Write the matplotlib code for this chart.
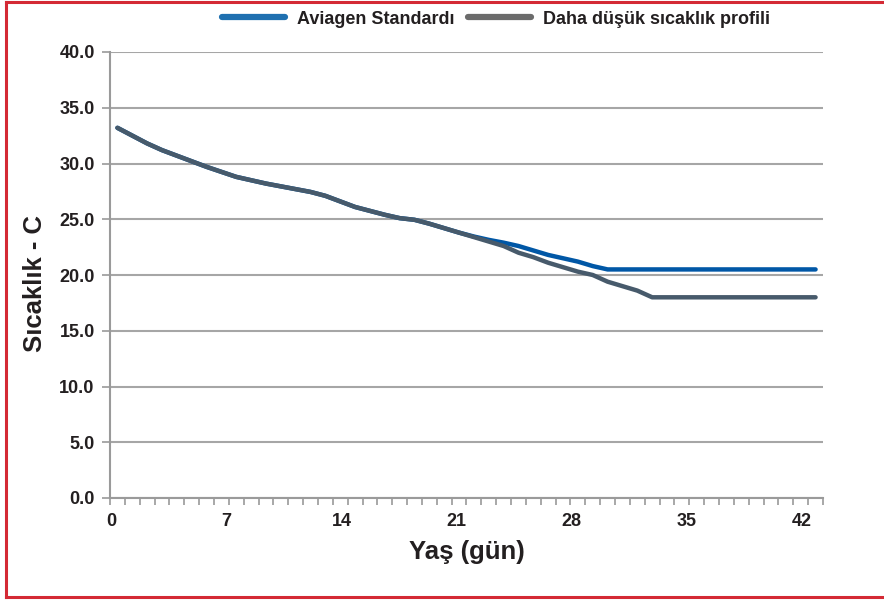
import matplotlib
matplotlib.use("Agg")
import matplotlib.pyplot as plt
from matplotlib.lines import Line2D
from matplotlib.ticker import FixedLocator, FormatStrFormatter

plt.rcParams['font.family'] = ['Liberation Sans', 'DejaVu Sans']

# Temperature profiles (°C), one value per plotted age step
standard_temp = [33.2, 32.5, 31.8, 31.2, 30.7, 30.2, 29.7, 29.25, 28.8, 28.5,
                 28.2, 27.95, 27.7, 27.45, 27.1, 26.6, 26.1, 25.75, 25.4, 25.1,
                 24.95, 24.6, 24.2, 23.8, 23.45, 23.15, 22.9, 22.6, 22.2, 21.8,
                 21.5, 21.2, 20.8, 20.5, 20.5, 20.5, 20.5, 20.5, 20.5, 20.5,
                 20.5, 20.5, 20.5, 20.5, 20.5, 20.5, 20.5, 20.5]
lower_temp = [33.2, 32.5, 31.8, 31.2, 30.7, 30.2, 29.7, 29.25, 28.8, 28.5,
              28.2, 27.95, 27.7, 27.45, 27.1, 26.6, 26.1, 25.75, 25.4, 25.1,
              24.95, 24.6, 24.2, 23.8, 23.4, 23.0, 22.6, 22.0, 21.6, 21.1,
              20.7, 20.3, 20.0, 19.4, 19.0, 18.6, 18.0, 18.0, 18.0, 18.0,
              18.0, 18.0, 18.0, 18.0, 18.0, 18.0, 18.0, 18.0]
day_labels = [0, 7, 14, 21, 28, 35, 42]
series_names = ['Aviagen Standardı', 'Daha düşük sıcaklık profili']
y_ticks = [0, 5, 10, 15, 20, 25, 30, 35, 40]

n = len(standard_temp)
steps = list(range(n))

fig = plt.figure(figsize=(8.84, 6.0), dpi=100)
ax = fig.add_axes([110 / 884, 1 - 498 / 600, 713 / 884, 446 / 600])

grid_c = '#a6a6a6'
ax.set_xlim(-0.5, n - 0.5)
ax.set_ylim(0, 40)
ax.yaxis.set_major_locator(FixedLocator(y_ticks))
ax.yaxis.set_major_formatter(FormatStrFormatter('%.1f'))
ax.grid(axis='y', color=grid_c, linewidth=1.5)
ax.set_axisbelow(True)

ax.plot(steps, standard_temp, color='#0057a6', linewidth=3.2,
        solid_capstyle='round', zorder=3)
ax.plot(steps, lower_temp, color='#475a6b', linewidth=3.2,
        solid_capstyle='round', zorder=4)

for s in ['top', 'right']:
    ax.spines[s].set_visible(False)
for s in ['left', 'bottom']:
    ax.spines[s].set_color('#9a9a9a')
    ax.spines[s].set_linewidth(1.5)

# Day labels spread along the category axis
label_pos = [-0.386 + d * (46.456 / 42) for d in day_labels]
ax.set_xticks(label_pos)
ax.set_xticklabels([str(d) for d in day_labels])
ax.tick_params(axis='x', which='major', length=0, pad=11)
ax.set_xticks([i - 0.5 for i in range(n + 1)], minor=True)
ax.tick_params(axis='x', which='minor', length=5, width=1.2, color='#9a9a9a',
               direction='out')
ax.tick_params(axis='y', length=6, width=1.2, color='#9a9a9a', pad=5)
for lbl in ax.get_xticklabels() + ax.get_yticklabels():
    lbl.set_fontsize(13)
    lbl.set_fontweight('bold')
    lbl.set_color('#231f20')

ax.set_xlabel('Yaş (gün)', fontsize=18.5, fontweight='bold', color='#231f20',
              labelpad=7)
ax.set_ylabel('Sıcaklık - C', fontsize=18.5, fontweight='bold', color='#231f20')
ax.yaxis.set_label_coords(-0.088, 0.48)

handles = [Line2D([0], [0], color='#1f70b0', linewidth=4.5, solid_capstyle='round'),
           Line2D([0], [0], color='#6b6b6b', linewidth=4.5, solid_capstyle='round')]
leg = fig.legend(handles, series_names, loc='center', bbox_to_anchor=(496 / 884, 1 - 19 / 600),
                 ncol=2, frameon=False, handlelength=3.5, handletextpad=0.7,
                 columnspacing=0.7, prop={'size': 13, 'weight': 'bold'})
for t in leg.get_texts():
    t.set_color('#231f20')

# Red frame on the left, top and bottom edges of the figure
frame_c = '#d42a35'
x0, y0, y1 = 6 / 884, 3 / 600, 1 - 2 / 600
for xs, ys in [([x0, x0], [y0, y1]), ([x0, 1.0], [y1, y1]), ([x0, 1.0], [y0, y0])]:
    fig.add_artist(Line2D(xs, ys, transform=fig.transFigure, color=frame_c,
                          linewidth=2.2, solid_capstyle='projecting'))

fig.savefig('out.png', dpi=100)
